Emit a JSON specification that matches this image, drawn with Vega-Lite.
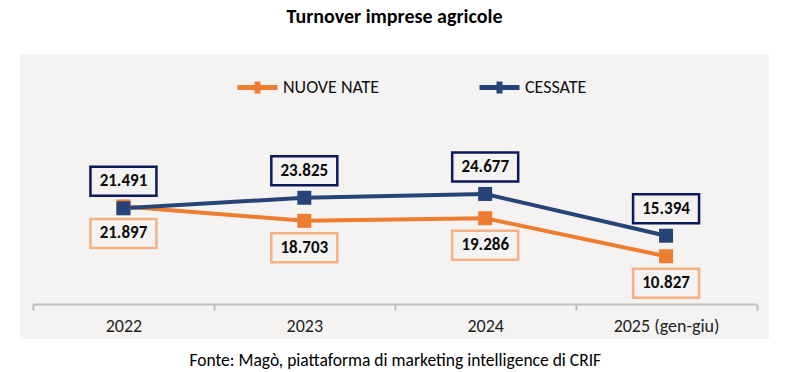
{
  "$schema": "https://vega.github.io/schema/vega-lite/v6.json",
  "autosize": {"type": "none"},
  "width": 749,
  "height": 285,
  "padding": {"left": 20, "top": 54, "right": 17, "bottom": 33},
  "background": "white",
  "title": {"text": "Turnover imprese agricole", "font": "Carlito, Lato, sans-serif", "fontSize": 20, "fontWeight": "bold", "color": "#000000", "anchor": "middle", "offset": 27},
  "config": {
    "view": {"fill": "#f4f3f1", "stroke": null},
    "locale": {"number": {"decimal": ",", "thousands": ".", "grouping": [3], "currency": ["€", ""]}}
  },
  "data": {
    "values": [
      {"anno": "2022", "serie": "NUOVE NATE", "valore": 21897},
      {"anno": "2023", "serie": "NUOVE NATE", "valore": 18703},
      {"anno": "2024", "serie": "NUOVE NATE", "valore": 19286},
      {"anno": "2025 (gen-giu)", "serie": "NUOVE NATE", "valore": 10827},
      {"anno": "2022", "serie": "CESSATE", "valore": 21491},
      {"anno": "2023", "serie": "CESSATE", "valore": 23825},
      {"anno": "2024", "serie": "CESSATE", "valore": 24677},
      {"anno": "2025 (gen-giu)", "serie": "CESSATE", "valore": 15394}
    ]
  },
  "encoding": {
    "x": {
      "field": "anno", "type": "ordinal", "sort": null,
      "scale": {"type": "band", "range": [13, 736.5], "paddingInner": 0, "paddingOuter": 0},
      "axis": {
        "title": "Fonte: Magò, piattaforma di marketing intelligence di CRIF",
        "titleFont": "Carlito, Lato, sans-serif", "titleFontSize": 17.5, "titleFontWeight": "normal", "titleColor": "#000000", "titlePadding": 16,
        "offset": -35, "labelAngle": 0, "labelFont": "Carlito, Lato, sans-serif", "labelFontSize": 18, "labelColor": "#222222", "labelPadding": 7,
        "domainColor": "#bfbfbf", "domainWidth": 2, "tickColor": "#bfbfbf", "tickWidth": 2, "tickSize": 6, "tickBand": "extent", "grid": false
      }
    },
    "y": {
      "field": "valore", "type": "quantitative",
      "scale": {"domain": [0, 50000], "range": [251, 26]},
      "axis": null
    }
  },
  "layer": [
    {
      "mark": {"type": "line", "strokeWidth": 4},
      "encoding": {
        "color": {
          "field": "serie", "type": "nominal",
          "scale": {"domain": ["NUOVE NATE", "CESSATE"], "range": ["#ed7d31", "#264478"]},
          "legend": {
            "title": null, "orient": "none", "direction": "horizontal", "legendX": 215, "legendY": 11,
            "symbolType": "M-1,0H1M-0.15,-0.175H0.15M-0.15,0.175H0.15", "symbolSize": 1600, "symbolStrokeWidth": 5,
            "labelFont": "Carlito, Lato, sans-serif", "labelFontSize": 18, "labelColor": "#111111", "labelOffset": 3, "columnPadding": 89
          }
        }
      }
    },
    {
      "mark": {"type": "point", "shape": "square", "filled": true, "opacity": 1, "size": 196},
      "encoding": {
        "color": {"field": "serie", "type": "nominal", "legend": null}
      }
    },
    {
      "transform": [{"filter": "datum.serie === 'CESSATE'"}],
      "mark": {"type": "point", "shape": "M-1,-0.44H1V0.44H-1Z", "size": 4356, "filled": false, "fill": "#f4f3f1", "fillOpacity": 1, "stroke": "#0c1a5a", "strokeWidth": 2.5, "opacity": 1, "yOffset": -27}
    },
    {
      "transform": [{"filter": "datum.serie === 'CESSATE'"}],
      "mark": {"type": "text", "font": "Carlito, Lato, sans-serif", "fontSize": 17, "fontWeight": "bold", "color": "#0d0d0d", "baseline": "middle", "dy": -27},
      "encoding": {"text": {"field": "valore", "type": "quantitative", "format": ",d"}}
    },
    {
      "transform": [{"filter": "datum.serie === 'NUOVE NATE'"}],
      "mark": {"type": "point", "shape": "M-1,-0.44H1V0.44H-1Z", "size": 4356, "filled": false, "fill": "#f4f3f1", "fillOpacity": 1, "stroke": "#f4b183", "strokeWidth": 2.5, "opacity": 1, "yOffset": 27}
    },
    {
      "transform": [{"filter": "datum.serie === 'NUOVE NATE'"}],
      "mark": {"type": "text", "font": "Carlito, Lato, sans-serif", "fontSize": 17, "fontWeight": "bold", "color": "#0d0d0d", "baseline": "middle", "dy": 27},
      "encoding": {"text": {"field": "valore", "type": "quantitative", "format": ",d"}}
    }
  ]
}
